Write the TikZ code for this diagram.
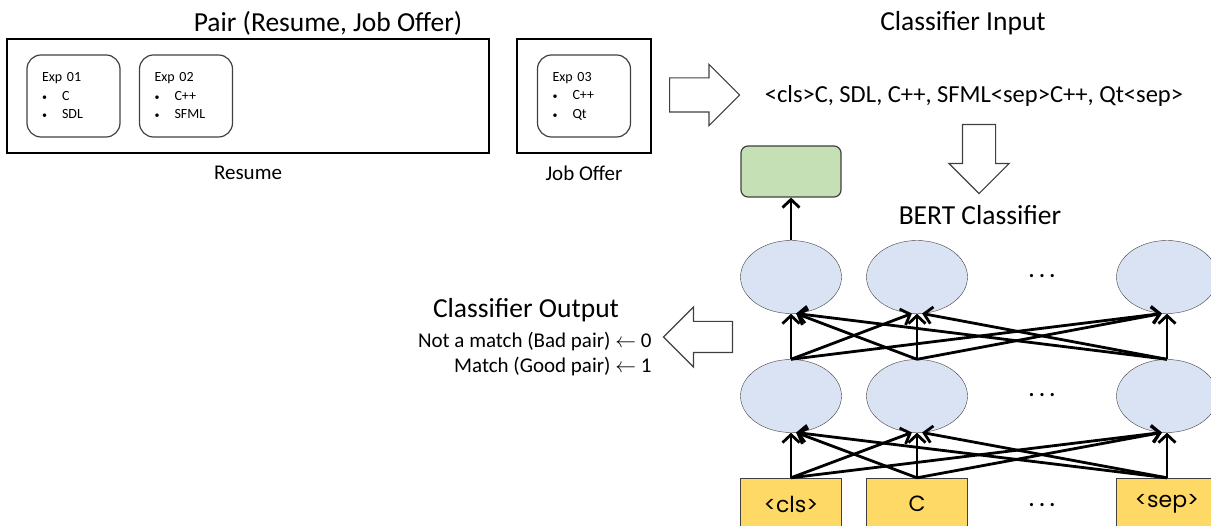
\documentclass[tikz,border=0pt]{standalone}
\usepackage{fontspec}
\setmainfont{Carlito}
\newfontfamily\gothic{Poppins}
\usepackage{tikz}
\usetikzlibrary{positioning,shapes.geometric,shapes.arrows,arrows.meta}

\definecolor{cellblue}{HTML}{DAE3F3}
\definecolor{tokyellow}{HTML}{FFD966}
\definecolor{outgreen}{HTML}{C5E0B4}
\definecolor{edgegray}{HTML}{404040}

\newcommand{\itm}[1]{\makebox[20pt][l]{\fontsize{10}{10}\selectfont\textbullet}#1}
\newcommand{\threedots}{.\hspace{5pt}.\hspace{5pt}.}

\begin{document}
\begin{tikzpicture}[x=1pt, y=-1pt, node distance={126pt},
  pairbox/.style = {draw, rectangle, line width=1.2pt, minimum height=114pt},
  expbox/.style = {draw=edgegray, rectangle, rounded corners=14pt, line width=1.2pt, minimum width=93pt, minimum height=82pt, text width=63pt, inner xsep=15pt, align=left, font=\fontsize{14}{18.5}\selectfont},
  heading/.style = {font=\fontsize{27.5}{33}\selectfont},
  caption/.style = {font=\fontsize{21}{25}\selectfont},
  cell/.style = {draw=edgegray, ellipse, fill=cellblue, minimum width=101pt, minimum height=73pt},
  tok/.style = {draw=edgegray, rectangle, fill=tokyellow, minimum width=101pt, minimum height=52pt, font=\gothic\fontsize{22}{26}\selectfont},
  dotsnode/.style = {font=\gothic\fontsize{26}{26}\selectfont},
  link/.style = {-{Straight Barb[length=8pt,width=17pt]}, line width=2.8pt},
  hollow/.style = {draw=edgegray, single arrow, anchor=tail, line width=1.2pt, inner xsep=0pt, inner ysep=16.5pt, minimum height=70pt, minimum width=60pt, single arrow head extend=13.5pt}]
\useasboundingbox (0,0) rectangle (1211,526);

% the pair
\node[heading] (pairtitle) at (328,23) {Pair (Resume, Job Offer)};
\node[pairbox, minimum width=482pt] (resume) at (248,96) {};
\node[pairbox, minimum width=134pt] (job) at (584,96) {};
\node[expbox] (exp1) at (73.5,96) {Exp 01\\\itm{C}\\\itm{SDL}};
\node[expbox] (exp2) at (186,96) {Exp 02\\\itm{C++}\\\itm{SFML}};
\node[expbox] (exp3) at (584,96) {Exp 03\\\itm{C++}\\\itm{Qt}};
\node[caption] (resumecap) at (248,173) {Resume};
\node[caption] (jobcap) at (584,173) {Job Offer};

% classifier input
\node[hollow] (toinput) at (669,95) {};
\node[heading] (intitle) at (963,23) {Classifier Input};
\node[font=\fontsize{24.5}{29}\selectfont] (intext) at (974,96) {<cls>C, SDL, C++, SFML<sep>C++, Qt<sep>};
\node[hollow, rotate=-90, inner ysep=16pt, minimum height=69pt] (tobert) at (979,124) {};
\node[heading] (berttitle) at (980,215) {BERT Classifier};

% network
\node[tok] (t1) at (791,504) {<cls>};
\node[tok] (t2) [right of=t1] {C};
\node[tok] (t3) at (1167,504) {<sep>};
\node[cell] (c21) at (791,396) {};
\node[cell] (c22) [right of=c21] {};
\node[cell] (c23) at (1167,396) {};
\node[cell] (c11) at (791,277) {};
\node[cell] (c12) [right of=c11] {};
\node[cell] (c13) at (1167,277) {};
\node[dotsnode] (d1) at (1042,276) {\threedots};
\node[dotsnode] (d2) at (1042,395) {\threedots};
\node[dotsnode] (d3) at (1042,505) {\threedots};
\node[draw=edgegray, rectangle, rounded corners=7pt, fill=outgreen, line width=1.2pt, minimum width=100pt, minimum height=51pt] (out) at (791,171.5) {};

\foreach \a in {1,2,3} \foreach \b in {1,2,3} {
  \pgfmathtruncatemacro\ang{-90+8*sign(\a-\b)}
  \draw[link] (t\a.north) -- (c2\b.\ang);
  \draw[link] (c2\a.north) -- (c1\b.\ang);
}
\draw[link] (c11.north) -- (out.south);

% classifier output
\node[hollow, rotate=180, inner ysep=15pt, minimum height=69pt, minimum width=59pt, single arrow head extend=14.5pt] (tooutput) at (733,337) {};
\node[heading] (outtitle) at (526,310) {Classifier Output};
\node[caption, align=right, anchor=east] (outlines) at (655,354.5) {Not a match (Bad pair) $\leftarrow$ 0\\Match (Good pair) $\leftarrow$ 1};

\end{tikzpicture}
\end{document}
